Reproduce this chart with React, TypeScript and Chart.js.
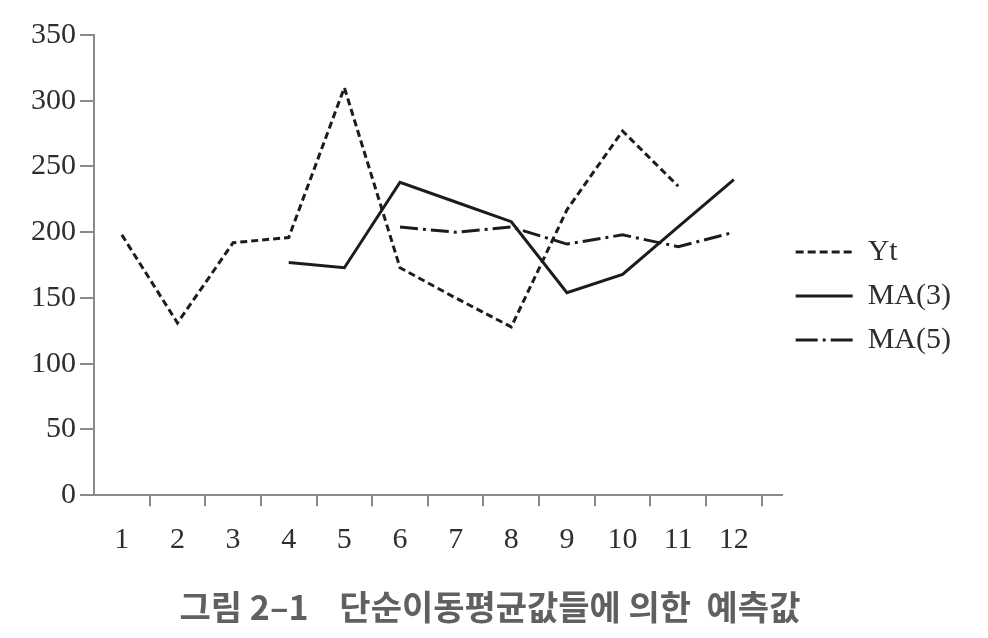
import React, { useEffect, useRef } from 'react';
import { Chart, registerables } from 'chart.js';

Chart.register(...registerables);

// ---- data ----
const categories = ['1', '2', '3', '4', '5', '6', '7', '8', '9', '10', '11', '12'];
const ytValues = [198, 131, 192, 196, 310, 173, 150, 128, 217, 277, 235, null];
const ma3Values = [null, null, null, 177, 173, 238, 223, 208, 154, 168, 204, 240];
const ma5Values = [null, null, null, null, null, 204, 200, 204, 191, 198, 189, 200];
const seriesLabels = ['Yt', 'MA(3)', 'MA(5)'];
const yMin = 0;
const yMax = 350;
const yStep = 50;
const captionText = '그림 2–1    단순이동평균값들에 의한  예측값';

const SERIF = "'Liberation Serif', 'Times New Roman', serif";
const AXIS_GRAY = '#8a8a8a';
const TEXT = '#2e2e2e';
const LINE = '#1c1c1c';

export default function App() {
  const ref = useRef<HTMLCanvasElement | null>(null);

  useEffect(() => {
    if (!ref.current) return;
    const toPts = (arr: (number | null)[]) => arr.map((v, i) => ({ x: i + 1, y: v }));
    const legendDash: number[][] = [[8, 4], [], [22, 5, 3, 5]];

    const chart = new Chart(ref.current, {
      type: 'line',
      data: {
        datasets: [
          {
            label: seriesLabels[0],
            data: toPts(ytValues) as any,
            borderColor: LINE,
            borderWidth: 3,
            borderDash: [7, 4],
            pointRadius: 0,
            fill: false,
            tension: 0,
          },
          {
            label: seriesLabels[1],
            data: toPts(ma3Values) as any,
            borderColor: LINE,
            borderWidth: 3,
            pointRadius: 0,
            fill: false,
            tension: 0,
          },
          {
            label: seriesLabels[2],
            data: toPts(ma5Values) as any,
            borderColor: LINE,
            borderWidth: 3,
            borderDash: [18, 5, 3, 5],
            pointRadius: 0,
            fill: false,
            tension: 0,
          },
        ],
      },
      options: {
        responsive: false,
        animation: false,
        events: [],
        layout: { padding: { left: 19, right: 27, top: 35, bottom: 11 } },
        scales: {
          x: {
            type: 'linear',
            min: 0.5,
            max: 12.86,
            afterBuildTicks: (s: any) => {
              s.ticks = categories.map((_, i) => ({ value: i + 1 }));
            },
            ticks: {
              autoSkip: false,
              maxRotation: 0,
              padding: 16,
              color: TEXT,
              font: { family: SERIF, size: 30 },
              callback: (_v: any, i: number) => categories[i],
            },
            grid: {
              offset: true,
              drawOnChartArea: false,
              tickLength: 11,
              lineWidth: 2,
              color: (c: any) => (c.index === 0 ? 'rgba(0,0,0,0)' : AXIS_GRAY),
            },
            border: { color: AXIS_GRAY, width: 2 },
          },
          y: {
            min: yMin,
            max: yMax,
            afterFit: (s: any) => {
              s.width = 75;
            },
            ticks: {
              stepSize: yStep,
              padding: 4,
              color: TEXT,
              font: { family: SERIF, size: 30 },
            },
            grid: {
              drawOnChartArea: false,
              tickLength: 14,
              lineWidth: 2,
              color: AXIS_GRAY,
            },
            border: { color: AXIS_GRAY, width: 2 },
          },
        },
        plugins: {
          tooltip: { enabled: false },
          legend: {
            position: 'right',
            align: 'start',
            title: {
              display: true,
              text: '',
              font: { size: 10, lineHeight: 1.2 },
              padding: { top: 176, bottom: 0 },
            },
            labels: {
              usePointStyle: true,
              pointStyle: 'line',
              pointStyleWidth: 57,
              padding: 14,
              color: TEXT,
              font: { family: SERIF, size: 30 },
              generateLabels: (ch: any) =>
                ch.data.datasets.map((ds: any, i: number) => ({
                  text: ds.label,
                  fillStyle: 'rgba(0,0,0,0)',
                  strokeStyle: ds.borderColor,
                  lineWidth: 3,
                  lineDash: legendDash[i],
                  pointStyle: 'line',
                  datasetIndex: i,
                  hidden: false,
                  fontColor: TEXT,
                })),
            },
          },
          title: {
            display: true,
            position: 'bottom',
            text: captionText,
            color: '#606060',
            font: { family: "'Noto Sans CJK KR', 'Noto Sans', sans-serif", size: 34, weight: 'bold', lineHeight: 1.2 },
            padding: { top: 12, bottom: 0 },
          },
        },
      },
    } as any);

    return () => chart.destroy();
  }, []);

  return (
    <div style={{ position: 'absolute', left: 0, top: 0, width: 988, height: 638, background: '#ffffff' }}>
      <canvas ref={ref} width={988} height={638} style={{ display: 'block' }} />
    </div>
  );
}
